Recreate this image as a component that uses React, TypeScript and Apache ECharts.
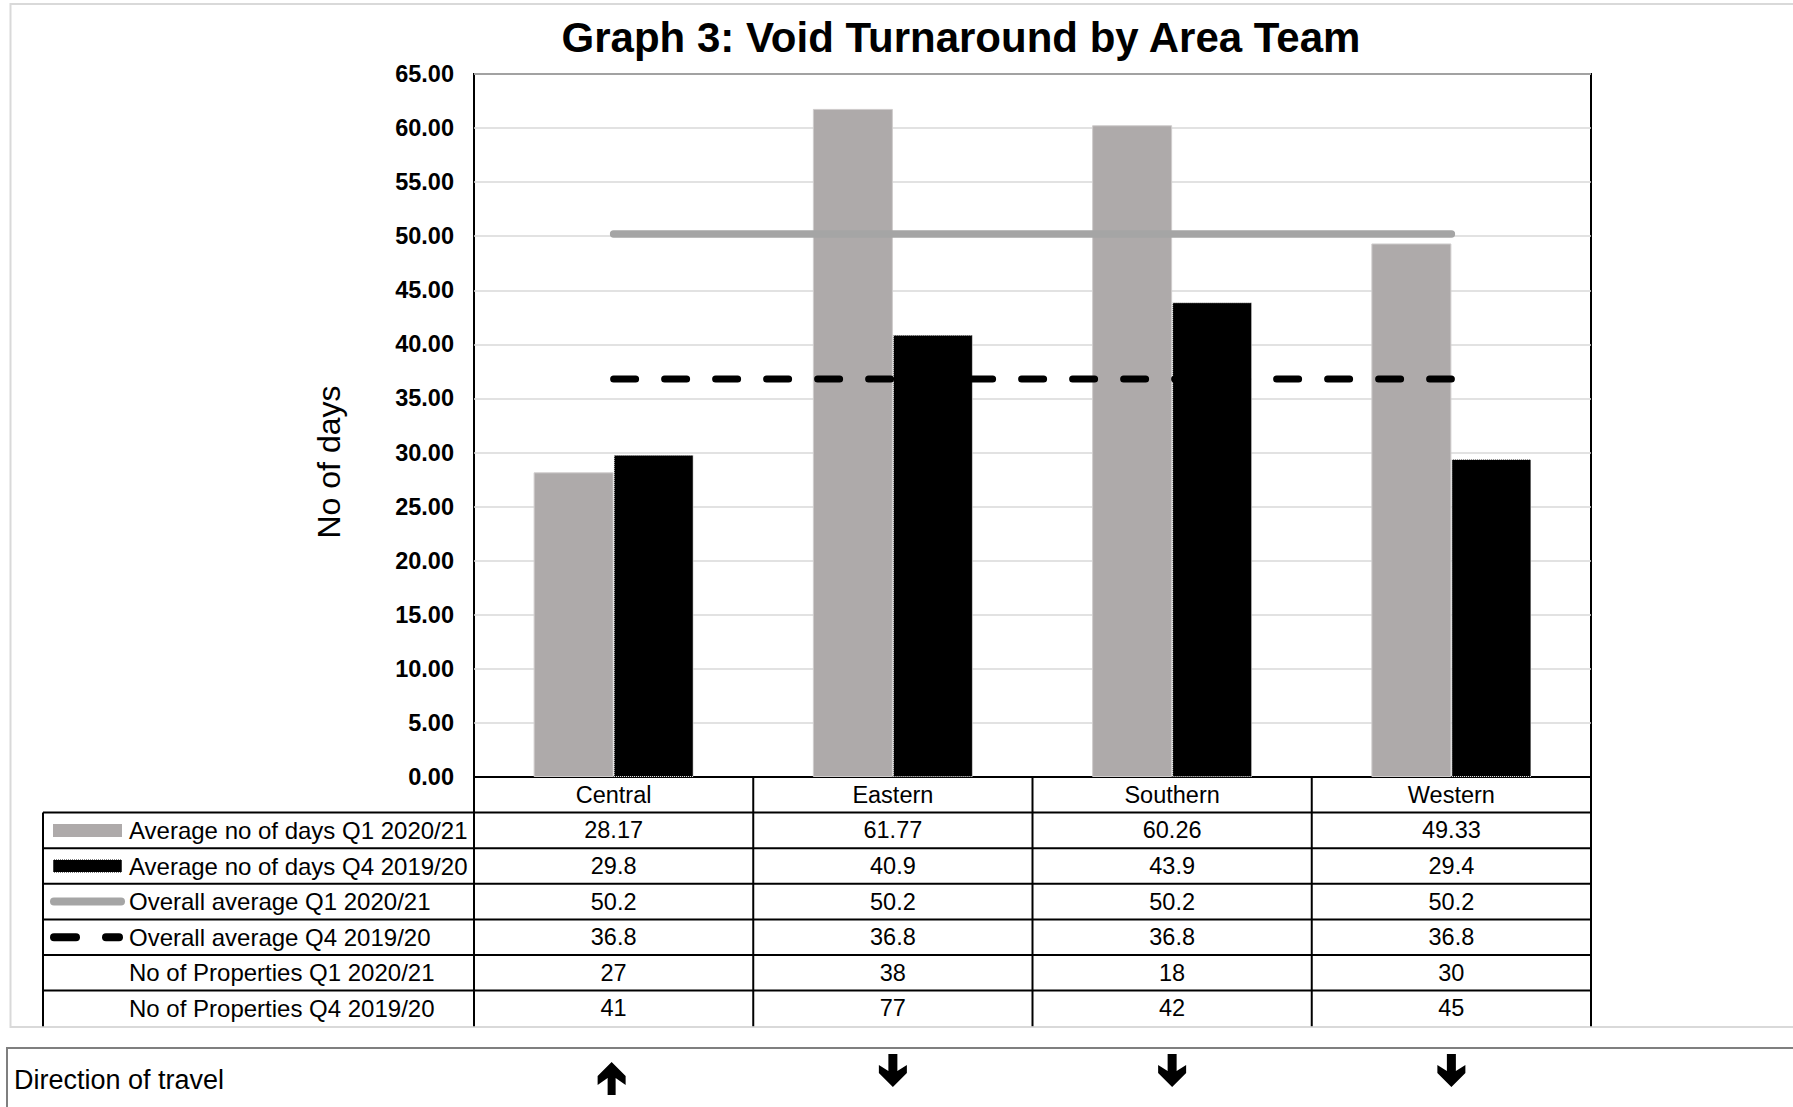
import React, { useEffect, useRef } from "react";
import * as echarts from "echarts";

const FONT = '"Liberation Sans", Arial, Helvetica, sans-serif';

const titleText = "Graph 3: Void Turnaround by Area Team";
const yAxisTitle = "No of days";
const categories = ["Central", "Eastern", "Southern", "Western"];
const avgQ1 = [28.17, 61.77, 60.26, 49.33];
const avgQ4 = [29.8, 40.9, 43.9, 29.4];
const overallQ1 = [50.2, 50.2, 50.2, 50.2];
const overallQ4 = [36.8, 36.8, 36.8, 36.8];
const propsQ1 = [27, 38, 18, 30];
const propsQ4 = [41, 77, 42, 45];
const rowLabels = [
  "Average no of days Q1 2020/21",
  "Average no of days Q4 2019/20",
  "Overall average Q1 2020/21",
  "Overall average Q4 2019/20",
  "No of Properties Q1 2020/21",
  "No of Properties Q4 2019/20",
];
const directionLabel = "Direction of travel";
const directions = ["up", "down", "down", "down"];
const yMin = 0;
const yMax = 65;
const yInterval = 5;

const GRAY_BAR = "#AEAAAA";
const GRAY_LINE = "#A5A5A5";

export default function App() {
  const ref = useRef<HTMLDivElement>(null);

  useEffect(() => {
    if (!ref.current) return;
    const chart = echarts.init(ref.current, null, { renderer: "svg" });
    const option: any = {
      animation: false,
      backgroundColor: "#ffffff",
      grid: {
        left: 474,
        right: 202,
        top: 74,
        bottom: 330,
        show: true,
        borderColor: "#000",
        borderWidth: 2,
        backgroundColor: "transparent",
        containLabel: false,
      },
      xAxis: {
        type: "category",
        data: categories,
        axisLine: { show: true, lineStyle: { color: "#000", width: 2 } },
        axisTick: { show: false },
        axisLabel: { show: false },
        splitLine: { show: false },
      },
      yAxis: {
        type: "value",
        min: yMin,
        max: yMax,
        interval: yInterval,
        axisLine: { show: false },
        axisTick: { show: false },
        axisLabel: {
          margin: 20,
          color: "#000",
          fontFamily: FONT,
          fontSize: 23.5,
          fontWeight: "bold",
          formatter: (v: number) => v.toFixed(2),
        },
        splitLine: { show: true, lineStyle: { color: "#D9D9D9", width: 1.5 } },
      },
      series: [
        {
          name: rowLabels[0],
          type: "bar",
          data: avgQ1,
          barWidth: 80,
          barGap: "0%",
          itemStyle: { color: GRAY_BAR, borderColor: "#CFCCCC", borderWidth: 1 },
          z: 2,
        },
        {
          name: rowLabels[1],
          type: "bar",
          data: avgQ4,
          barWidth: 80,
          barGap: "0%",
          itemStyle: { color: "#000", borderColor: "#ffffff", borderWidth: 1, borderType: "dotted" },
          z: 2,
        },
        {
          name: rowLabels[2],
          type: "line",
          data: overallQ1,
          symbol: "none",
          lineStyle: { color: GRAY_LINE, width: 7.5, cap: "round" },
          z: 4,
        },
        {
          name: rowLabels[3],
          type: "line",
          data: overallQ4,
          symbol: "none",
          lineStyle: { color: "#000", width: 7, type: [22, 29], cap: "round" },
          z: 5,
        },
      ],
    };
    chart.setOption(option);

    const centers = categories.map((_, i) => chart.convertToPixel({ xAxisIndex: 0 }, i) as number);
    const colW = centers[1] - centers[0];
    const plotL = centers[0] - colW / 2;
    const plotR = centers[centers.length - 1] + colW / 2;
    const tableTop = chart.convertToPixel({ yAxisIndex: 0 }, yMin) as number;
    const rowH = 35.6;
    const tableLeft = 43;
    const tableBottom = tableTop + rowH * 7;
    const textFont = `23.5px ${FONT}`;

    const els: any[] = [];
    const txt = (text: string, x: number, y: number, align: string, font = textFont) => ({
      type: "text",
      silent: true,
      z: 10,
      style: {
        text,
        x,
        y,
        font,
        fill: "#000",
        align,
        textAlign: align,
        verticalAlign: "middle",
        textVerticalAlign: "middle",
      },
    });
    const line = (x1: number, y1: number, x2: number, y2: number, stroke = "#000", lineWidth = 2, extra: any = {}) => ({
      type: "line",
      silent: true,
      z: 10,
      shape: { x1, y1, x2, y2 },
      style: { stroke, lineWidth, ...extra },
    });

    // outer chart area border
    els.push({
      type: "rect",
      silent: true,
      z: -1,
      shape: { x: 10.5, y: 4, width: 1800, height: 1023 },
      style: { fill: "none", stroke: "#D9D9D9", lineWidth: 2 },
    });

    // title
    els.push({
      type: "text",
      silent: true,
      style: {
        text: titleText,
        x: 961,
        y: 37,
        font: `bold 42px ${FONT}`,
        fill: "#000",
        align: "center",
        textAlign: "center",
        verticalAlign: "middle",
        textVerticalAlign: "middle",
      },
    });

    // y axis title
    els.push({
      type: "text",
      silent: true,
      x: 329,
      y: 462,
      rotation: Math.PI / 2,
      style: {
        text: yAxisTitle,
        x: 0,
        y: 0,
        font: `32px ${FONT}`,
        fill: "#000",
        align: "center",
        textAlign: "center",
        verticalAlign: "middle",
        textVerticalAlign: "middle",
      },
    });

    // table grid lines
    for (let k = 1; k <= 6; k++) {
      const y = tableTop + k * rowH;
      els.push(line(tableLeft, y, plotR, y));
    }
    els.push(line(tableLeft, tableTop + rowH, tableLeft, tableBottom));
    for (let i = 0; i <= categories.length; i++) {
      const x = plotL + i * colW;
      els.push(line(x, tableTop, x, tableBottom));
    }

    // header row
    categories.forEach((c, i) => {
      els.push(txt(c, centers[i], tableTop + rowH / 2, "center"));
    });

    const rows = [avgQ1, avgQ4, overallQ1, overallQ4, propsQ1, propsQ4];
    rows.forEach((vals, r) => {
      const cy = tableTop + (r + 1.5) * rowH;
      els.push(txt(rowLabels[r], 129, cy, "left", `24px ${FONT}`));
      vals.forEach((v, i) => {
        els.push(txt(String(v), centers[i], cy, "center"));
      });
    });

    // legend keys
    const ky0 = tableTop + 1.5 * rowH;
    els.push({
      type: "rect",
      silent: true,
      z: 10,
      shape: { x: 53, y: ky0 - 6.5, width: 69, height: 13 },
      style: { fill: GRAY_BAR },
    });
    const ky1 = tableTop + 2.5 * rowH;
    els.push({
      type: "rect",
      silent: true,
      z: 10,
      shape: { x: 53, y: ky1 - 6.5, width: 69, height: 13 },
      style: { fill: "#000", stroke: "#ffffff", lineWidth: 1, lineDash: [1, 1] },
    });
    const ky2 = tableTop + 3.5 * rowH;
    els.push(line(54, ky2, 121, ky2, GRAY_LINE, 8, { lineCap: "round" }));
    const ky3 = tableTop + 4.5 * rowH;
    els.push(line(54, ky3, 76, ky3, "#000", 8, { lineCap: "round" }));
    els.push(line(106, ky3, 119, ky3, "#000", 8, { lineCap: "round" }));

    // direction of travel box
    els.push({
      type: "rect",
      silent: true,
      shape: { x: 7, y: 1048, width: 1800, height: 100 },
      style: { fill: "#fff", stroke: "#7F7F7F", lineWidth: 2 },
    });
    els.push(txt(directionLabel, 14, 1080, "left", `27px ${FONT}`));

    directions.forEach((d, i) => {
      let pts: number[][];
      if (d === "up") {
        const c = centers[i] - 2;
        const T = 1062;
        pts = [
          [c, T], [c + 14, T + 14], [c + 14, T + 23], [c + 4, T + 16], [c + 4, T + 33],
          [c - 4, T + 33], [c - 4, T + 16], [c - 14, T + 23], [c - 14, T + 14],
        ];
      } else {
        const c2 = centers[i];
        const T = 1054;
        pts = [
          [c2 - 4.5, T], [c2 + 4.5, T], [c2 + 4.5, T + 17], [c2 + 14, T + 11], [c2 + 14, T + 19],
          [c2, T + 33], [c2 - 14, T + 19], [c2 - 14, T + 11], [c2 - 4.5, T + 17],
        ];
      }
      els.push({
        type: "polygon",
        silent: true,
        z: 10,
        shape: { points: pts },
        style: { fill: "#000" },
      });
    });

    chart.setOption({ graphic: els });

    return () => chart.dispose();
  }, []);

  return (
    <div
      ref={ref}
      style={{ position: "fixed", left: 0, top: 0, width: 1793, height: 1107, background: "#fff" }}
    />
  );
}
